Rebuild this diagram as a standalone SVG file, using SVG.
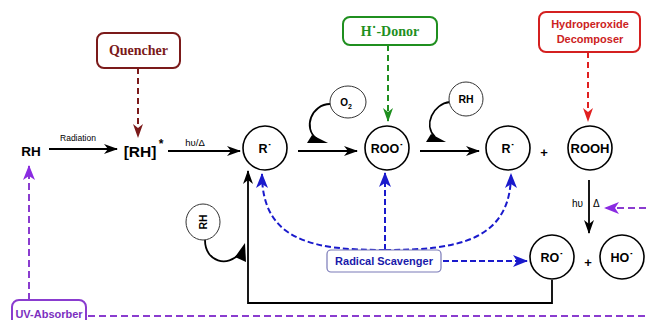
<svg xmlns="http://www.w3.org/2000/svg" width="646" height="320" viewBox="0 0 646 320">
<defs>
<style>
.t{font-family:"Liberation Sans",Arial,sans-serif;font-weight:bold;text-anchor:middle}
.s{font-family:"Liberation Serif","Times New Roman",serif;font-weight:bold;text-anchor:middle}
.c{fill:#fff;stroke:#000;stroke-width:1.6}
.c2{fill:#fff;stroke:#333;stroke-width:1}
.k{fill:none;stroke:#000;stroke-width:1.8}
.dq{fill:none;stroke:#7b1a1a;stroke-width:2;stroke-dasharray:6,4}
.dg{fill:none;stroke:#1f8f1f;stroke-width:2;stroke-dasharray:6,4}
.dr{fill:none;stroke:#e02020;stroke-width:2;stroke-dasharray:6,4}
.db{fill:none;stroke:#1a1acc;stroke-width:2;stroke-dasharray:6,3}
.dp{fill:none;stroke:#8a3ccf;stroke-width:2;stroke-dasharray:7,4}
</style>
<marker id="ak" markerUnits="userSpaceOnUse" markerWidth="14" markerHeight="10" refX="13" refY="5" orient="auto"><path d="M0,0 L14,5 L0,10 L4,5 z" fill="#000"/></marker>
<marker id="aq" markerUnits="userSpaceOnUse" markerWidth="14" markerHeight="10" refX="13" refY="5" orient="auto"><path d="M0,0 L14,5 L0,10 L4,5 z" fill="#7b1a1a"/></marker>
<marker id="ag" markerUnits="userSpaceOnUse" markerWidth="14" markerHeight="10" refX="13" refY="5" orient="auto"><path d="M0,0 L14,5 L0,10 L4,5 z" fill="#1f8f1f"/></marker>
<marker id="ar" markerUnits="userSpaceOnUse" markerWidth="14" markerHeight="10" refX="13" refY="5" orient="auto"><path d="M0,0 L14,5 L0,10 L4,5 z" fill="#e02020"/></marker>
<marker id="ab" markerUnits="userSpaceOnUse" markerWidth="15" markerHeight="12" refX="14" refY="6" orient="auto"><path d="M0,0 L15,6 L0,12 L4,6 z" fill="#1a1acc"/></marker>
<marker id="ap" markerUnits="userSpaceOnUse" markerWidth="15" markerHeight="12" refX="14" refY="6" orient="auto"><path d="M0,0 L15,6 L0,12 L4,6 z" fill="#8a2be2"/></marker>
</defs>
<rect width="646" height="320" fill="#fff"/>

<g id="connectors">
<line class="k" x1="49" y1="149" x2="117" y2="149" marker-end="url(#ak)"/>
<line class="k" x1="168" y1="151" x2="240" y2="151" marker-end="url(#ak)"/>
<line class="k" x1="298" y1="151" x2="357" y2="151" marker-end="url(#ak)"/>
<line class="k" x1="420" y1="151" x2="479" y2="151" marker-end="url(#ak)"/>
<line class="k" x1="589" y1="180" x2="589" y2="233" marker-end="url(#ak)"/>
<polyline class="k" points="552,280 552,303 248,303 248,171" marker-end="url(#ak)"/>
<path class="dq" d="M138,68 V137" marker-end="url(#aq)"/>
<path class="dg" d="M388,45 V121" marker-end="url(#ag)"/>
<path class="dr" d="M588,52 V121" marker-end="url(#ar)"/>
<path class="db" d="M385,250 V173" marker-end="url(#ab)"/>
<path class="db" d="M385,250 C315,250 262,242 262,174" marker-end="url(#ab)"/>
<path class="db" d="M385,250 C455,250 511,242 511,174" marker-end="url(#ab)"/>
<path class="db" d="M443,261 H527" marker-end="url(#ab)"/>
<path class="dp" d="M29,300 V166" marker-end="url(#ap)"/>
<path class="dp" d="M88,316 H646"/>
<path class="dp" d="M646,208 H605" marker-end="url(#ap)"/>
<path class="k" d="M330,104 C312,104 302,128 317,139"/>
<polygon points="312,135 328,143 307,143" fill="#000"/>
<path class="k" d="M450,102 C433,104 423,125 435,137"/>
<polygon points="431,134 446,142 426,142" fill="#000"/>
<path class="k" d="M205,240 C205,262 228,268 240,253"/>
<polygon points="245,243 246,262 235,257" fill="#000"/>
</g>

<g id="rh">
<text class="t" x="31" y="156" font-size="13.5">RH</text>
<text x="78" y="141" font-family="Liberation Sans,Arial,sans-serif" font-size="8.5" text-anchor="middle">Radiation</text>
</g>
<g id="rh-excited">
<text class="t" x="140" y="157" font-size="15.5">[RH]</text>
<text class="t" x="161" y="148" font-size="12">*</text>
<text x="195" y="146" font-family="Liberation Sans,Arial,sans-serif" font-size="9.5" text-anchor="middle">hυ/Δ</text>
</g>
<g id="quencher">
<rect x="97" y="33" width="83" height="35" rx="7" fill="#fff" stroke="#7b1a1a" stroke-width="2"/>
<text class="s" x="138.5" y="55" font-size="14" fill="#7b1a1a">Quencher</text>
</g>
<g id="r1">
<circle class="c" cx="265" cy="148" r="22"/>
<text class="t" x="265" y="153" font-size="12.5">R˙</text>
</g>
<g id="o2">
<ellipse class="c2" cx="348" cy="102" rx="18" ry="16"/>
<text class="t" x="346" y="106" font-size="10">O<tspan font-size="7" dy="3">2</tspan></text>
</g>
<g id="hdonor">
<rect x="343" y="17" width="94" height="28" rx="7" fill="#fff" stroke="#1f8f1f" stroke-width="2"/>
<text class="s" x="390" y="36" font-size="14" fill="#1f8f1f">H˙-Donor</text>
</g>
<g id="roo">
<circle class="c" cx="387" cy="148" r="22"/>
<text class="t" x="387" y="153" font-size="12.5">ROO˙</text>
</g>
<g id="rh2">
<circle class="c2" cx="466" cy="99" r="17"/>
<text class="t" x="466" y="103" font-size="10.5">RH</text>
</g>
<g id="r2">
<circle class="c" cx="508" cy="148" r="22"/>
<text class="t" x="508" y="153" font-size="12.5">R˙</text>
<text class="t" x="544" y="157" font-size="13">+</text>
</g>
<g id="rooh">
<circle class="c" cx="590" cy="148" r="22"/>
<text class="t" x="590" y="153" font-size="13">ROOH</text>
<text x="583" y="207" font-family="Liberation Sans,Arial,sans-serif" font-size="10" text-anchor="end">hυ</text>
<text x="593" y="207" font-family="Liberation Sans,Arial,sans-serif" font-size="10">Δ</text>
</g>
<g id="decomposer">
<rect x="539" y="12" width="101" height="40" rx="7" fill="#fff" stroke="#d42020" stroke-width="2"/>
<text class="t" x="590" y="28" font-size="11" fill="#cc2222">Hydroperoxide</text>
<text class="t" x="590" y="43" font-size="11" fill="#cc2222">Decomposer</text>
</g>
<g id="rh3">
<ellipse class="c2" cx="203" cy="222" rx="17" ry="18"/>
<text class="t" transform="translate(207,222) rotate(-90)" x="0" y="0" font-size="10.5">RH</text>
</g>
<g id="scavenger">
<rect x="327" y="250" width="114" height="22" rx="4" fill="#fff" stroke="#7a7ab8" stroke-width="1.2"/>
<text class="t" x="384" y="265" font-size="11" fill="#1a1aaa">Radical Scavenger</text>
</g>
<g id="ro">
<circle class="c" cx="552" cy="257" r="22"/>
<text class="t" x="552" y="262" font-size="12.5">RO˙</text>
<text class="t" x="588" y="267" font-size="13">+</text>
</g>
<g id="ho">
<circle class="c" cx="622" cy="257" r="22"/>
<text class="t" x="622" y="262" font-size="12.5">HO˙</text>
</g>
<g id="uv">
<rect x="12" y="300" width="74" height="30" rx="7" fill="#fff" stroke="#8a3ccf" stroke-width="2"/>
<text class="t" x="49" y="318" font-size="11" fill="#7b2fbf">UV-Absorber</text>
</g>
</svg>
